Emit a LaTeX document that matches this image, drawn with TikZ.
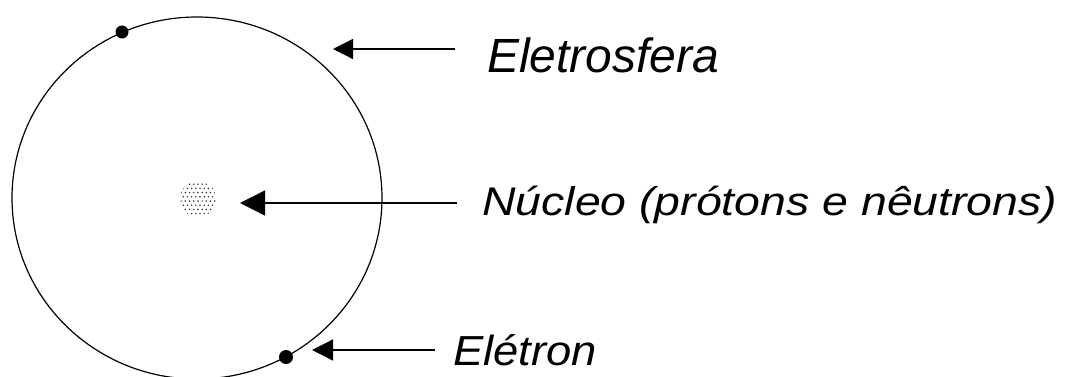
\documentclass[tikz,border=0pt]{standalone}
\usepackage{fontspec}
\setmainfont{Liberation Sans}
\usetikzlibrary{arrows.meta}
\tikzset{
  lbl/.style={anchor=base west,inner sep=0pt,font=\itshape},
  pointer/.style={line width=1.3pt,-{Triangle[length=#1,width=#1]}},
  electron/.style={fill=black},
  stipple/.style={fill=black!80},
}
\begin{document}
\begin{tikzpicture}[x=1pt,y=-1pt]
\useasboundingbox (0,0) rectangle (1075,377);
\clip (0,0) rectangle (1075,377);
% atom
\draw[line width=1.2pt] (197,198) ellipse (185 and 181);
\begin{scope}
  \clip (198,199) circle (18);
  \foreach \i in {0,...,9} {
    \foreach \j in {0,...,9} {
      \pgfmathsetmacro{\px}{179+\i*4.2+mod(\j,2)*2.1}
      \pgfmathsetmacro{\py}{180+\j*4.2}
      \fill[stipple] (\px,\py) circle (0.85);
    }
  }
\end{scope}
\fill[electron] (122,32) circle (6.5);
\fill[electron] (286,357) circle (7);
% labels
\node[lbl] (eletrosfera) at (487,73) {\fontsize{48}{50}\selectfont Eletrosfera};
\node[lbl] (nucleo) at (482,215) {\scalebox{1.16}[1]{\fontsize{40}{42}\selectfont Núcleo (prótons e nêutrons)}};
\node[lbl] (eletron) at (453,365) {\scalebox{1.08}[1]{\fontsize{42}{44}\selectfont Elétron}};
% arrow ends
\coordinate (s1) at (455,49);
\coordinate (t1) at (333,49);
\coordinate (s2) at (457,203);
\coordinate (t2) at (240,203);
\coordinate (s3) at (435,350);
\coordinate (t3) at (312,350);
\draw[pointer=20pt] (s1) -- (t1);
\draw[pointer=25pt] (s2) -- (t2);
\draw[pointer=21pt] (s3) -- (t3);
\end{tikzpicture}
\end{document}
